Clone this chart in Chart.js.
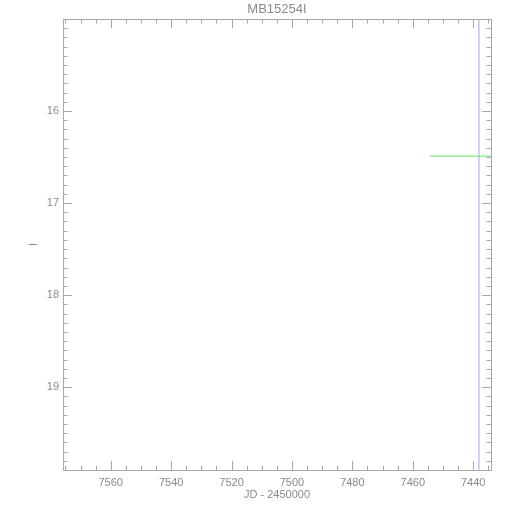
<!DOCTYPE html>
<html><head><meta charset="utf-8">
<script src="https://cdn.jsdelivr.net/npm/chart.js@4"></script>
<style>html,body{margin:0;padding:0;background:#fff}#wrap{width:510px;height:510px}</style>
</head><body><div id="wrap"><canvas id="c" width="510" height="510"></canvas></div>
<script>
const titleText = "MB15254I";
const xTitle = "JD - 2450000";
const yTitle = "I";
const xRange = [7434.1, 7575.8];
const yRange = [15.0, 19.9];
const xMajorTicks = [7440, 7460, 7480, 7500, 7520, 7540, 7560];
const yMajorTicks = [16, 17, 18, 19];
const xMinorStep = 5;
const yMinorStep = 0.1;
const greenJD = [7454.3, 7434.1];
const greenMag = [16.49, 16.49];
const markerJD = [7438.1, 7438.1];
const markerMag = [15.0, 19.9];

const gray = '#8a8a8a';
const axisGray = '#a8a8a8';
const font = "'Liberation Sans', Arial, sans-serif";

const innerTicks = {
  id: 'innerTicks',
  afterDraw(chart) {
    const {ctx, chartArea: a, scales: {x, y}} = chart;
    ctx.save();
    ctx.strokeStyle = axisGray;
    ctx.lineWidth = 1;
    ctx.strokeRect(Math.round(a.left) + 0.5, Math.round(a.top) + 0.5, Math.round(a.right - a.left), Math.round(a.bottom - a.top));
    ctx.beginPath();
    const xs = [];
    for (let v = Math.ceil(xRange[0] / xMinorStep) * xMinorStep; v <= xRange[1]; v += xMinorStep) xs.push(v);
    xs.forEach(v => {
      const major = xMajorTicks.includes(v);
      const len = major ? 9 : 4.5;
      const px = Math.round(x.getPixelForValue(v)) + 0.5;
      ctx.moveTo(px, a.bottom); ctx.lineTo(px, a.bottom - len);
      ctx.moveTo(px, a.top); ctx.lineTo(px, a.top + len);
    });
    const n0 = Math.ceil(yRange[0] / yMinorStep + 1e-6), n1 = Math.floor(yRange[1] / yMinorStep + 1e-6);
    for (let n = n0; n <= n1; n++) {
      const v = n * yMinorStep;
      const major = yMajorTicks.some(t => Math.abs(t - v) < 1e-6);
      const len = major ? 9 : 4.5;
      const py = Math.round(y.getPixelForValue(v)) + 0.5;
      ctx.moveTo(a.left, py); ctx.lineTo(a.left + len, py);
      ctx.moveTo(a.right, py); ctx.lineTo(a.right - len, py);
    }
    ctx.stroke();
    ctx.restore();
  }
};

new Chart(document.getElementById('c'), {
  type: 'scatter',
  data: {
    datasets: [
      {data: greenJD.map((v, i) => ({x: v, y: greenMag[i]})), showLine: true, borderColor: '#5ee85e', borderWidth: 1, pointRadius: 0},
      {data: markerJD.map((v, i) => ({x: v, y: markerMag[i]})), showLine: true, borderColor: '#c8c8ff', borderWidth: 1, pointRadius: 0}
    ]
  },
  options: {
    responsive: false,
    animation: false,
    events: [],
    layout: {padding: {left: 0, right: 19, top: 0, bottom: 0}},
    plugins: {
      legend: {display: false},
      tooltip: {enabled: false},
      title: {display: true, fullSize: false, text: titleText, color: gray, font: {family: font, size: 13, weight: 'normal'}, padding: {top: 2, bottom: 1.4}}
    },
    scales: {
      x: {
        type: 'linear', reverse: true, min: xRange[0], max: xRange[1],
        afterBuildTicks: s => { s.ticks = xMajorTicks.map(v => ({value: v})); },
        afterFit: s => { s.height = 40; },
        grid: {display: false, drawTicks: false},
        border: {display: false},
        ticks: {color: gray, font: {family: font, size: 11}, padding: 6, maxRotation: 0, autoSkip: false, callback: v => String(v)},
        title: {display: true, text: xTitle, color: gray, font: {family: font, size: 11}, padding: {top: 0, bottom: 8}}
      },
      y: {
        type: 'linear', reverse: true, min: yRange[0], max: yRange[1],
        afterBuildTicks: s => { s.ticks = yMajorTicks.map(v => ({value: v})); },
        afterFit: s => { s.width = 63; },
        grid: {display: false, drawTicks: false},
        border: {display: false},
        ticks: {color: gray, font: {family: font, size: 11}, padding: 4, autoSkip: false, callback: v => String(v)},
        title: {display: true, text: yTitle, color: gray, font: {family: font, size: 11}, padding: {top: 27, bottom: 0}}
      }
    }
  },
  plugins: [innerTicks]
});
</script>
</body></html>
